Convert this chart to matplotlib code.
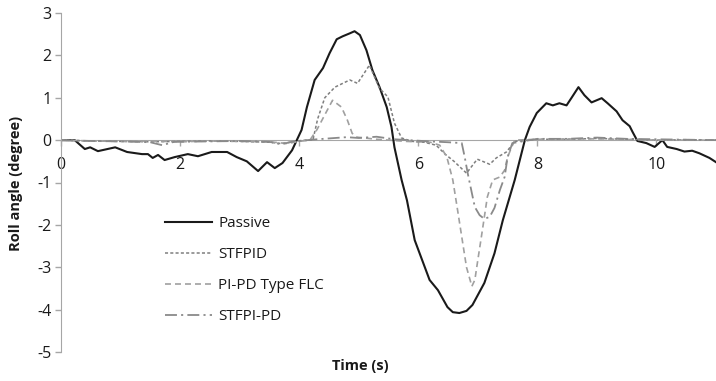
import matplotlib
matplotlib.use("Agg")
import matplotlib.pyplot as plt

plt.rcParams["font.family"] = ["Open Sans", "DejaVu Sans"]
plt.rcParams["lines.scale_dashes"] = False
plt.rcParams["axes.unicode_minus"] = False

# Roll angle responses (degree) against time (s)
passive_t = [0, 0.23, 0.40, 0.49, 0.62, 0.91, 1.11, 1.36, 1.46, 1.54, 1.63, 1.74, 1.91,
             2.13, 2.30, 2.53, 2.79, 2.95, 3.12, 3.31, 3.46, 3.59, 3.72, 3.88, 4.04,
             4.13, 4.26, 4.40, 4.51, 4.63, 4.73, 4.85, 4.93, 5.02, 5.13, 5.23, 5.35,
             5.47, 5.55, 5.60, 5.72, 5.81, 5.94, 6.19, 6.33, 6.49, 6.58, 6.69, 6.81,
             6.91, 7.11, 7.28, 7.42, 7.62, 7.79, 7.87, 7.99, 8.15, 8.26, 8.37, 8.49,
             8.57, 8.69, 8.79, 8.91, 9.08, 9.18, 9.33, 9.43, 9.55, 9.60, 9.68, 9.83,
             9.97, 10.10, 10.18, 10.34, 10.47, 10.60, 10.72, 10.89, 11.0]
passive_y = [0, 0, -0.21, -0.17, -0.26, -0.17, -0.28, -0.33, -0.33, -0.42, -0.35, -0.47, -0.40,
             -0.33, -0.38, -0.28, -0.28, -0.40, -0.50, -0.73, -0.52, -0.66, -0.54, -0.24, 0.24,
             0.78, 1.42, 1.70, 2.05, 2.38, 2.45, 2.52, 2.57, 2.48, 2.12, 1.65, 1.25,
             0.78, 0.31, -0.17, -0.94, -1.42, -2.36, -3.30, -3.54, -3.94, -4.06, -4.08, -4.03,
             -3.89, -3.37, -2.67, -1.89, -0.94, 0.0, 0.31, 0.64, 0.87, 0.82, 0.87, 0.82,
             0.99, 1.25, 1.06, 0.89, 0.99, 0.87, 0.68, 0.47, 0.33, 0.19, -0.02, -0.07,
             -0.16, 0.0, -0.16, -0.21, -0.27, -0.25, -0.31, -0.42, -0.52]

stfpid_t = [0, 0.5, 1.0, 1.5, 2.0, 2.5, 3.0, 3.5, 3.7, 3.9, 4.1, 4.23, 4.31, 4.43, 4.60,
            4.85, 4.98, 5.18, 5.35, 5.49, 5.60, 5.72, 5.9, 6.10, 6.30, 6.45, 6.60, 6.81,
            6.99, 7.08, 7.20, 7.31, 7.48, 7.62, 8.0, 8.5, 9.0, 9.5, 10.0, 10.5, 11.0]
stfpid_y = [0, -0.02, -0.03, -0.04, -0.03, -0.02, -0.03, -0.05, -0.08, -0.04, 0.0, 0.0, 0.5,
            1.0, 1.25, 1.42, 1.34, 1.77, 1.22, 1.02, 0.40, 0.05, -0.03, -0.05, -0.12, -0.33,
            -0.50, -0.78, -0.45, -0.50, -0.57, -0.42, -0.28, -0.03, 0.02, 0.02, 0.04, 0.02,
            0.0, 0.01, 0.0]

pipd_t = [0, 0.5, 1.0, 1.5, 2.0, 2.5, 3.0, 3.5, 3.8, 4.0, 4.18, 4.30, 4.45, 4.56, 4.71,
          4.81, 4.89, 4.97, 5.3, 5.8, 6.2, 6.36, 6.48, 6.58, 6.66, 6.73, 6.81, 6.90, 6.95,
          7.00, 7.06, 7.11, 7.16, 7.25, 7.37, 7.45, 7.50, 7.57, 7.62, 8.0, 9.0, 10.0, 11.0]
pipd_y = [0, -0.02, -0.03, -0.02, -0.04, -0.02, -0.03, -0.04, -0.08, -0.03, 0.0, 0.25, 0.65,
          0.94, 0.78, 0.47, 0.16, 0.07, 0.02, -0.03, -0.05, -0.12, -0.40, -0.94, -1.65, -2.28,
          -3.00, -3.45, -3.30, -2.83, -2.28, -1.81, -1.34, -0.94, -0.87, -0.71, -0.40, -0.16,
          0.0, 0.02, 0.03, 0.0, 0.0]

stfpipd_t = [0, 0.5, 1.0, 1.5, 1.7, 1.9, 2.5, 3.0, 3.5, 3.7, 3.9, 4.3, 4.8, 5.0, 5.3, 5.6,
             6.19, 6.5, 6.73, 6.78, 6.83, 6.90, 6.95, 7.03, 7.11, 7.20, 7.28, 7.37, 7.45,
             7.50, 7.58, 8.0, 8.5, 9.0, 9.5, 10.0, 11.0]
stfpipd_y = [0, -0.02, -0.03, -0.05, -0.12, -0.04, -0.03, -0.02, -0.04, -0.10, -0.03, 0.02,
             0.07, 0.05, 0.08, 0.02, -0.03, -0.05, -0.07, -0.40, -0.78, -1.25, -1.58, -1.77,
             -1.86, -1.81, -1.60, -1.18, -0.87, -0.40, -0.07, 0.03, 0.03, 0.06, 0.03, 0.02, 0.0]

fig = plt.figure(figsize=(7.16, 3.81), dpi=100)
ax = fig.add_axes([61 / 716, 1 - 352 / 381, 655 / 716, 339 / 381])

ax.plot(passive_t, passive_y, color="#1a1a1a", lw=1.5, label="Passive",
        solid_joinstyle="round")
ax.plot(stfpid_t, stfpid_y, color="#7f7f7f", lw=1.1, dashes=(2.2, 1.6), label="STFPID")
ax.plot(pipd_t, pipd_y, color="#a0a0a0", lw=1.2, dashes=(4.3, 2.9), label="PI-PD Type FLC")
ax.plot(stfpipd_t, stfpipd_y, color="#8a8a8a", lw=1.3, dashes=(8.6, 3.0, 1.5, 3.0),
        label="STFPI-PD")

ax.set_xlim(0, 11)
ax.set_ylim(-5, 3)
ax.set_xticks([0, 2, 4, 6, 8, 10])
ax.set_yticks(range(-5, 4))

for side in ("top", "right"):
    ax.spines[side].set_visible(False)
ax.spines["bottom"].set_position(("data", 0))
ax.spines["bottom"].set_color("#a6a6a6")
ax.spines["left"].set_color("#a6a6a6")
ax.spines["bottom"].set_zorder(0)
ax.tick_params(axis="both", colors="#a6a6a6", labelcolor="#1a1a1a", labelsize=11.5,
               length=4, width=1)
ax.tick_params(axis="x", pad=8)
ax.tick_params(axis="y", pad=3)

fig.text(16 / 716, 1 - 183 / 381, "Roll angle (degree)", rotation=90, ha="center",
         va="center", fontsize=10.5, fontweight="bold", color="#1a1a1a")
fig.text(360 / 716, 1 - 366 / 381, "Time (s)", ha="center", va="center",
         fontsize=10.5, fontweight="bold", color="#1a1a1a")

leg = ax.legend(loc="upper left", bbox_to_anchor=(165 / 716, 1 - 216 / 381),
                bbox_transform=fig.transFigure, frameon=False, fontsize=11,
                handlelength=3.1, handletextpad=0.4, labelspacing=1.05, borderpad=0,
                borderaxespad=0)
for txt in leg.get_texts():
    txt.set_color("#1a1a1a")

fig.savefig("out.png", dpi=100)
